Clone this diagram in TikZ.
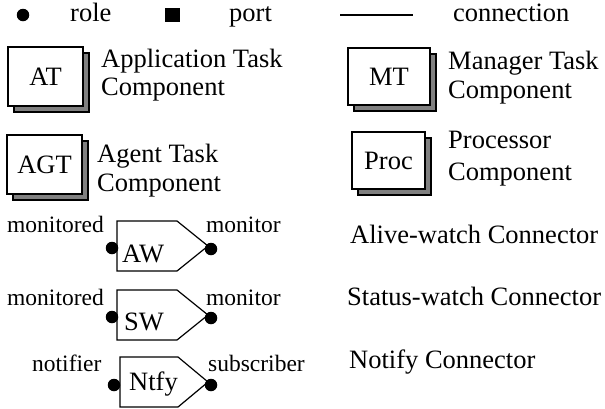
\documentclass[tikz,border=0pt]{standalone}
\usepackage{fontspec}
\setmainfont{Liberation Serif}
\usetikzlibrary{shadows}
\definecolor{shadowgray}{gray}{0.5}
\tikzset{
  txt/.style={inner sep=0pt, anchor=base west, font=\fontsize{26.5}{28}\selectfont},
  rolelbl/.style={inner sep=0pt, anchor=base west, font=\fontsize{23.5}{26}\selectfont},
  comp/.style={draw, line width=1.2pt, fill=white, rectangle, inner sep=0pt,
    font=\fontsize{26.5}{28}\selectfont,
    copy shadow={shadow xshift=6pt, shadow yshift=-6pt, fill=shadowgray, draw=black, line width=1.2pt}},
  roledot/.style={circle, fill=black, inner sep=0pt, minimum size=12.5pt},
  portsq/.style={rectangle, fill=black, inner sep=0pt, minimum width=15pt, minimum height=14pt},
  connshape/.style={draw, line width=1.2pt, line join=miter, fill=white},
  connlbl/.style={inner sep=0pt, anchor=base west, font=\fontsize{26.5}{28}\selectfont},
}
\begin{document}
\begin{tikzpicture}[x=1pt, y=-1pt]
\useasboundingbox (0,0) rectangle (605,408);

% legend row
\node[roledot] (roleDot) at (23,15) {};
\node[txt] (roleTxt) at (70,21) {role};
\node[portsq] (portSq) at (172.5,15) {};
\node[txt] (portTxt) at (229,21) {port};
\coordinate (lineL) at (340,15);
\coordinate (lineR) at (413,15);
\draw[line width=1.2pt] (lineL) -- (lineR);
\node[txt] (connTxt) at (453,21) {connection};

% components
\node[comp, minimum width=75pt, minimum height=59pt] (at) at (45.5,76.5) {AT};
\node[txt] (atL1) at (101,67) {Application Task};
\node[txt] (atL2) at (101,95) {Component};

\node[comp, minimum width=82pt, minimum height=57pt] (mt) at (389,76.5) {MT};
\node[txt] (mtL1) at (448,69) {Manager Task};
\node[txt] (mtL2) at (448,98) {Component};

\node[comp, minimum width=75pt, minimum height=59pt] (agt) at (44.5,164.5) {AGT};
\node[txt] (agtL1) at (97,162) {Agent Task};
\node[txt] (agtL2) at (97,191) {Component};

\node[comp, minimum width=73pt, minimum height=57pt] (proc) at (388.5,160.5) {Proc};
\node[txt] (procL1) at (448,148) {Processor};
\node[txt] (procL2) at (448,180) {Component};

% alive-watch connector
\draw[connshape] (117,221) -- (177,221) -- (208,246) -- (177,271) -- (117,271) -- cycle;
\node[connlbl] (aw) at (122,262) {AW};
\node[roledot] (awIn) at (112,248) {};
\node[roledot] (awOut) at (211,249) {};
\node[rolelbl] (awInTxt) at (7,232) {monitored};
\node[rolelbl] (awOutTxt) at (206,232) {monitor};
\node[txt] (awDesc) at (350,243) {Alive-watch Connector};

% status-watch connector
\draw[connshape] (117,290) -- (177,290) -- (208,315) -- (177,340) -- (117,340) -- cycle;
\node[connlbl] (sw) at (124,330) {SW};
\node[roledot] (swIn) at (112,317) {};
\node[roledot] (swOut) at (211,318) {};
\node[rolelbl] (swInTxt) at (7,305) {monitored};
\node[rolelbl] (swOutTxt) at (206,305) {monitor};
\node[txt] (swDesc) at (347,305) {Status-watch Connector};

% notify connector
\draw[connshape] (120,357) -- (178,357) -- (208,382) -- (178,407) -- (120,407) -- cycle;
\node[connlbl] (ntfy) at (129,390) {Ntfy};
\node[roledot] (ntfyIn) at (114,385) {};
\node[roledot] (ntfyOut) at (211,385) {};
\node[rolelbl] (ntfyInTxt) at (32,371) {notifier};
\node[rolelbl] (ntfyOutTxt) at (208,371) {subscriber};
\node[txt] (ntfyDesc) at (349,368) {Notify Connector};
\end{tikzpicture}
\end{document}
